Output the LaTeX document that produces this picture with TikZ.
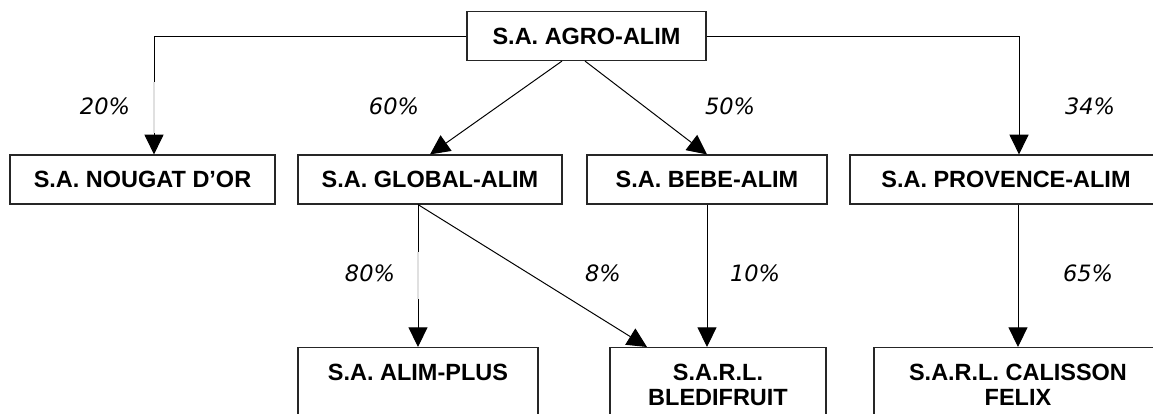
\documentclass[tikz,border=0pt]{standalone}
\usepackage{fontspec}
\setmainfont{Liberation Sans}
\newfontfamily\pctfont{DejaVu Sans}
\usetikzlibrary{arrows.meta,calc}
\tikzset{
 societe/.style={draw=black!85, line width=0.8pt, fill=white, inner sep=0pt,
  minimum height=1.225cm, font=\fontsize{16.7}{17.8}\selectfont\bfseries},
 filiale/.style={societe, anchor=north, align=center, minimum height=0pt, inner ysep=0.425cm},
 pct/.style={font=\pctfont\itshape\fontsize{16}{18}\selectfont, inner sep=0pt},
 lien/.style={->, line width=0.7pt},
 pale/.style={black!12, line width=1.1pt}
}
\begin{document}
\begin{tikzpicture}[x=0.025cm, y=-0.025cm, >={Triangle[length=14pt,width=13.5pt]}]
 \useasboundingbox (0,0) rectangle (1153,414);
 \clip (0,0) rectangle (1153,414);
 % Société mère
 \node[societe, minimum width=5.975cm] (agro) at (586.5,36) {S.A. AGRO-ALIM};
 % Filiales directes
 \node[societe, minimum width=6.625cm] (nougat) at (142.5,179.5) {S.A. NOUGAT D'OR};
 \node[societe, minimum width=6.6cm] (global) at (430,179.5) {S.A. GLOBAL-ALIM};
 \node[societe, minimum width=6cm] (bebe) at (707,179.5) {S.A. BEBE-ALIM};
 \node[societe, minimum width=7.8cm] (provence) at (1006,179.5) {S.A. PROVENCE-ALIM};
 % Sous-filiales
 \node[filiale, minimum width=6cm] (alimplus) at (418,347) {S.A. ALIM-PLUS\\\mbox{}};
 \node[filiale, minimum width=5.4cm] (bledi) at (718,347) {S.A.R.L.\\BLEDIFRUIT};
 \node[filiale, minimum width=7.2cm] (calisson) at (1018,347) {S.A.R.L. CALISSON\\FELIX};
 % Participations
 \coordinate (nord1) at ($(nougat.north)+(11.5,0)$);
 \coordinate (nord4) at ($(provence.north)+(13,0)$);
 \draw[lien] (agro.west) -| (nord1);
 \draw[pale] ($(nord1)+(0,-72)$) -- ($(nord1)+(0,-21)$);
 \draw[lien] (agro.east) -| (nord4);
 \draw[lien] ($(agro.south)+(-24.5,0)$) -- (global.north);
 \draw[lien] ($(agro.south)+(-1.5,0)$) -- (bebe.north);
 \draw[lien] (alimplus.north |- global.south) -- (alimplus.north);
 \draw[pale] ($(alimplus.north)+(0,-95)$) -- ($(alimplus.north)+(0,-48)$);
 \draw[lien] (alimplus.north |- global.south) -- ($(bledi.north)+(-71,0)$);
 \draw[lien] (bebe.south) -- (bebe.south |- bledi.north);
 \draw[lien] (calisson.north |- provence.south) -- (calisson.north);
 % Pourcentages
 \node[pct] (p1) at (105,106) {20\%};
 \node[pct] (p2) at (394,106) {60\%};
 \node[pct] (p3) at (730,106) {50\%};
 \node[pct] (p4) at (1090,106) {34\%};
 \node[pct] (p5) at (370,273) {80\%};
 \node[pct] (p6) at (603,273) {8\%};
 \node[pct] (p7) at (755,273) {10\%};
 \node[pct] (p8) at (1088,273) {65\%};
\end{tikzpicture}
\end{document}
